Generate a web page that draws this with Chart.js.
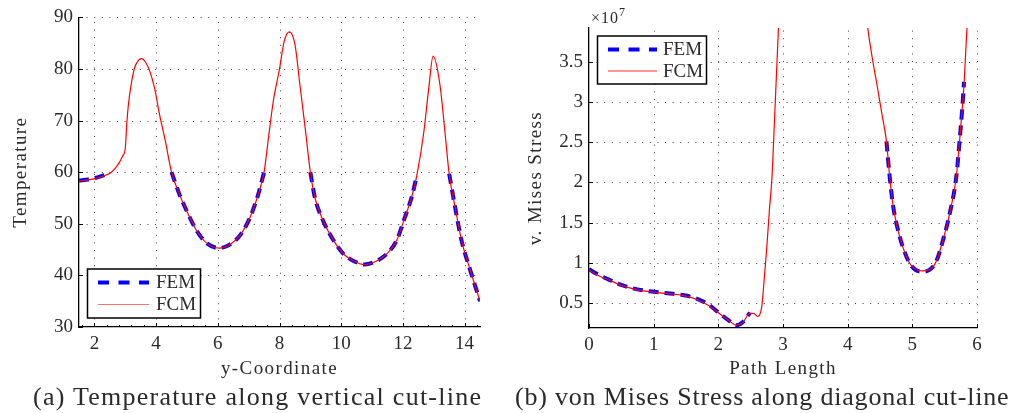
<!DOCTYPE html>
<html><head><meta charset="utf-8">
<script src="https://cdn.jsdelivr.net/npm/chart.js@4/dist/chart.umd.min.js"></script>
<style>
html,body{margin:0;padding:0;background:#fff;width:1013px;height:413px;overflow:hidden;}
.box{position:absolute;top:0;height:385px;}
#wa{left:0;width:500px;}
#wb{left:500px;width:513px;}
.cap{position:absolute;font-family:"Liberation Serif",serif;font-size:26px;line-height:26px;color:#2a2a2a;white-space:nowrap;}
#mult{position:absolute;left:591px;top:10px;font-family:"Liberation Serif",serif;font-size:16px;line-height:16px;color:#2a2a2a;letter-spacing:1px;}
#mult sup{font-size:12px;vertical-align:7px;line-height:0;}
</style></head><body>
<div class="box" id="wa"><canvas id="ca"></canvas></div>
<div class="box" id="wb"><canvas id="cb"></canvas></div>
<div id="mult">×10<sup>7</sup></div>
<div class="cap" style="left:33px;top:384px;letter-spacing:1.25px">(a) Temperature along vertical cut-line</div>
<div class="cap" style="left:515px;top:384px;letter-spacing:0.8px">(b) von Mises Stress along diagonal cut-line</div>
<script>
// ---- data: (a) temperature along vertical cut-line ----
const tempX = [1.5, 1.8, 2.1, 2.4, 2.5, 2.65, 2.8, 2.92, 3.0, 3.05, 3.1, 3.2, 3.3, 3.42, 3.53, 3.65, 3.8, 3.95, 4.1, 4.3, 4.5, 4.75, 5.0, 5.3, 5.65, 6.05, 6.4, 6.75, 7.05, 7.3, 7.5, 7.65, 7.8, 8.0, 8.15, 8.32, 8.5, 8.66, 8.83, 9.0, 9.15, 9.4, 9.75, 10.1, 10.4, 10.75, 11.15, 11.5, 11.8, 12.05, 12.3, 12.45, 12.67, 12.83, 12.98, 13.2, 13.37, 13.5, 13.7, 13.9, 14.2, 14.5];
const tempFCM = [58.3, 58.5, 58.9, 59.5, 59.8, 60.6, 61.8, 63.2, 64.6, 69.5, 73.0, 77.3, 80.2, 81.6, 82.0, 81.4, 79.5, 76.3, 71.5, 66.0, 60.0, 55.8, 52.4, 48.8, 46.2, 45.3, 46.0, 48.0, 51.3, 55.5, 60.0, 67.0, 73.8, 80.0, 85.3, 87.2, 84.8, 77.0, 68.7, 60.0, 55.0, 50.8, 46.8, 44.0, 42.8, 42.1, 42.8, 44.3, 46.8, 51.0, 55.5, 59.3, 67.4, 75.8, 82.5, 77.0, 67.4, 59.7, 53.0, 46.8, 40.7, 35.0];
const tempFEM = [58.4, 58.6, 59.0, 59.6, 59.9,
  null, null, null, null, null, null, null, null, null, null, null, null, null, null, null,
  60.0, 55.8, 52.4, 48.8, 46.2, 45.3, 46.0, 48.0, 51.3, 55.5, 60.0,
  null, null, null, null, null, null, null, null,
  60.0, 55.0, 50.8, 46.8, 44.0, 42.8, 42.1, 42.8, 44.3, 46.8, 51.0, 55.5, 59.3,
  null, null, null, null, null,
  59.7, 53.0, 46.8, 40.7, 35.0];
const tempXTicks = [2, 4, 6, 8, 10, 12, 14];
const tempYTicks = [30, 40, 50, 60, 70, 80, 90];

// ---- data: (b) von Mises stress along diagonal cut-line (units of 1e7) ----
const stressX = [0, 0.15, 0.3, 0.5, 0.75, 1.0, 1.25, 1.45, 1.65, 1.85, 2.0, 2.15, 2.28, 2.38, 2.49, 2.55, 2.61, 2.67, 2.71, 2.75, 2.79, 2.83, 2.87, 2.93, 2.96, 3.5, 4.27, 4.31, 4.38, 4.45, 4.53, 4.6, 4.65, 4.7, 4.76, 4.86, 4.98, 5.14, 5.27, 5.37, 5.47, 5.58, 5.68, 5.73, 5.77, 5.8, 5.845, 5.87];
const stressFCM = [0.91, 0.84, 0.79, 0.72, 0.665, 0.635, 0.615, 0.595, 0.55, 0.47, 0.38, 0.29, 0.225, 0.26, 0.375, 0.37, 0.335, 0.45, 0.8, 1.2, 1.66, 2.07, 2.8, 3.92, 4.4, null, 4.2, 3.92, 3.55, 3.23, 2.85, 2.51, 2.07, 1.72, 1.47, 1.18, 0.97, 0.90, 0.915, 1.02, 1.27, 1.62, 2.07, 2.51, 2.9, 3.23, 3.92, 4.2];
const stressFEM = [0.92, 0.85, 0.795, 0.725, 0.67, 0.64, 0.62, 0.60, 0.56, 0.48, 0.385, 0.29, 0.225, 0.265, 0.38,
  null, null, null, null, null, null, null, null, null, null, null, null, null, null, null, null,
  2.51, 2.07, 1.72, 1.47, 1.18, 0.97, 0.89, 0.915, 1.02, 1.27, 1.62, 2.07, 2.51, 2.9, 3.25,
  null, null];
const stressXTicks = [0, 1, 2, 3, 4, 5, 6];
const stressYTicks = [0.5, 1, 1.5, 2, 2.5, 3, 3.5];

const seriesNames = ['FEM', 'FCM'];

Chart.defaults.font.family = '"Liberation Serif", serif';
Chart.defaults.font.size = 19;
Chart.defaults.color = '#2a2a2a';

function pts(xs, ys) { return xs.map((x, i) => ({ x: x, y: ys[i] })); }

function extrasPlugin(geom) {
  return {
    id: 'extras',
    afterUpdate(chart) {
      Object.values(chart.scales).forEach(s => {
        if (!s._spaced) {
          const orig = s.drawTitle.bind(s);
          s.drawTitle = function () { const c = this.ctx; c.save(); c.letterSpacing = '1.4px'; orig(); c.restore(); };
          s._spaced = true;
        }
      });
    },
    beforeDatasetsDraw(chart) {
      // dotted grid at major ticks
      const ctx = chart.ctx, a = chart.chartArea, sx = chart.scales.x, sy = chart.scales.y;
      ctx.save();
      ctx.strokeStyle = '#3a3a3a'; ctx.lineWidth = 1; ctx.setLineDash([1, 6.6]);
      sx.ticks.forEach(t => {
        const p = Math.round(sx.getPixelForValue(t.value)) + 0.5;
        if (p < a.left + 2) return;
        ctx.beginPath(); ctx.moveTo(p, a.bottom); ctx.lineTo(p, a.top); ctx.stroke();
      });
      sy.ticks.forEach(t => {
        const p = Math.round(sy.getPixelForValue(t.value)) + 0.5;
        if (p > a.bottom - 2) return;
        ctx.beginPath(); ctx.moveTo(a.left, p); ctx.lineTo(a.right, p); ctx.stroke();
      });
      ctx.restore();
    },
    afterDraw(chart) {
      const ctx = chart.ctx, a = chart.chartArea, sx = chart.scales.x, sy = chart.scales.y;
      ctx.save();
      // inward tick marks
      ctx.strokeStyle = '#000'; ctx.lineWidth = 1; ctx.setLineDash([]);
      sx.ticks.forEach(t => { const p = Math.round(sx.getPixelForValue(t.value)) + 0.5; ctx.beginPath(); ctx.moveTo(p, a.bottom); ctx.lineTo(p, a.bottom - 4); ctx.stroke(); });
      sy.ticks.forEach(t => { const p = Math.round(sy.getPixelForValue(t.value)) + 0.5; ctx.beginPath(); ctx.moveTo(a.left, p); ctx.lineTo(a.left + 4, p); ctx.stroke(); });
      if (geom.minorX) {
        const m = geom.minorX;
        for (let v = m.start; v <= sx.max + 1e-9; v += m.step) {
          const p = Math.round(sx.getPixelForValue(v)) + 0.5;
          ctx.beginPath(); ctx.moveTo(p, a.bottom); ctx.lineTo(p, a.bottom - 2); ctx.stroke();
        }
      }
      // legend box
      const L = geom.legend;
      ctx.fillStyle = '#fff'; ctx.fillRect(L.x, L.y, L.w, L.h);
      ctx.strokeStyle = '#000'; ctx.lineWidth = 1.5; ctx.strokeRect(L.x, L.y, L.w, L.h);
      chart.data.datasets.forEach((ds, i) => {
        const ry = L.rows[i];
        ctx.save();
        ctx.strokeStyle = i === 1 ? L.fcmColor : ds.borderColor; ctx.lineWidth = ds.borderWidth;
        ctx.setLineDash(ds.borderDash ? [11, 9.5] : []);
        ctx.beginPath(); ctx.moveTo(L.lx1, ry); ctx.lineTo(L.lx2, ry); ctx.stroke();
        ctx.restore();
        ctx.fillStyle = '#2a2a2a'; ctx.font = '19px "Liberation Serif", serif';
        ctx.textBaseline = 'middle'; ctx.textAlign = 'left';
        ctx.fillText(ds.label, L.tx, ry + 1);
      });
      ctx.restore();
    }
  };
}

function build(id, xs, fem, fcm, xT, yT, xr, yr, xTitle, yTitle, geom) {
  return new Chart(document.getElementById(id), {
    type: 'line',
    data: {
      datasets: [
        { label: seriesNames[0], data: pts(xs, fem), borderColor: '#0000ff', borderWidth: 4, borderDash: [10, 6], borderCapStyle: 'butt', pointRadius: 0, cubicInterpolationMode: 'monotone', spanGaps: false, order: 2, fill: false },
        { label: seriesNames[1], data: pts(xs, fcm), borderColor: '#ff0000', borderWidth: 1.2, pointRadius: 0, cubicInterpolationMode: 'monotone', spanGaps: false, order: 1, fill: false }
      ]
    },
    options: {
      responsive: true, maintainAspectRatio: false, animation: false, events: [],
      layout: { padding: { left: 0, right: geom.padR, top: geom.padT, bottom: 0 } },
      plugins: { legend: { display: false }, tooltip: { enabled: false } },
      scales: {
        x: {
          type: 'linear', min: xr[0], max: xr[1],
          afterBuildTicks: a => { a.ticks = xT.map(v => ({ value: v })); },
          afterFit: s => { s.height = geom.xH; },
          grid: { display: false, drawTicks: false },
          border: { display: true, color: '#000', width: 1.3 },
          ticks: { padding: 6, font: { size: 19 }, callback: v => String(v), maxRotation: 0, autoSkip: false },
          title: { display: true, text: xTitle, font: { size: 19 }, padding: { top: 0, bottom: 5 } }
        },
        y: {
          type: 'linear', min: yr[0], max: yr[1],
          afterBuildTicks: a => { a.ticks = yT.map(v => ({ value: v })); },
          afterFit: s => { s.width = geom.yW; },
          grid: { display: false, drawTicks: false },
          border: { display: true, color: '#000', width: 1.3 },
          ticks: { padding: 6, font: { size: 19 }, callback: v => String(v), autoSkip: false },
          title: { display: true, text: yTitle, font: { size: 19 }, padding: { top: geom.yTitlePad, bottom: 0 } }
        }
      }
    },
    plugins: [extrasPlugin(geom)]
  });
}

build('ca', tempX, tempFEM, tempFCM, tempXTicks, tempYTicks, [1.5, 14.5], [30, 90], 'y-Coordinate', 'Temperature',
  { padR: 20, padT: 16, xH: 58, yW: 79, yTitlePad: 10, minorX: { start: 1.6, step: 0.4 },
    legend: { x: 87.5, y: 269, w: 113, h: 49, rows: [282.5, 304.5], lx1: 98, lx2: 149, tx: 156, fcmColor: '#ff7070' } });
build('cb', stressX, stressFEM, stressFCM, stressXTicks, stressYTicks, [0, 6], [0.19, 3.92], 'Path Length', 'v. Mises Stress',
  { padR: 36, padT: 28, xH: 57, yW: 89, yTitlePad: 25,
    legend: { x: 97.5, y: 36, w: 109, h: 48, rows: [49.5, 71], lx1: 108, lx2: 157, tx: 163, fcmColor: '#ff3030' } });
</script>
</body></html>
